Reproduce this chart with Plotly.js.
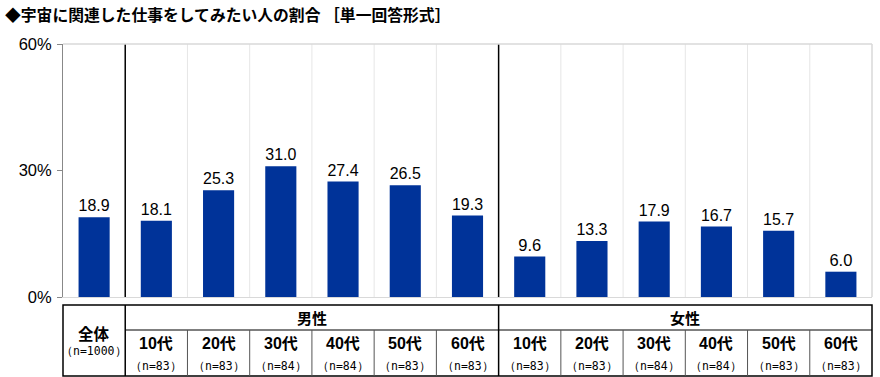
<!DOCTYPE html>
<html>
<head>
<meta charset="utf-8">
<script src="https://cdn.plot.ly/plotly-3.0.1.min.js"></script>
<style>html,body{margin:0;padding:0;background:#fff;}#chart{width:880px;height:377px;}</style>
</head>
<body>
<div id="chart"></div>
<script>
const titleText = '◆宇宙に関連した仕事をしてみたい人の割合 ［単一回答形式］';
const groups = ['全体','男性','男性','男性','男性','男性','男性','女性','女性','女性','女性','女性','女性'];
const ages = ['', '10代','20代','30代','40代','50代','60代','10代','20代','30代','40代','50代','60代'];
const nLabels = ['（n=1000）','（n=83）','（n=83）','（n=84）','（n=84）','（n=83）','（n=83）','（n=83）','（n=83）','（n=84）','（n=84）','（n=83）','（n=83）'];
const values = [18.9,18.1,25.3,31.0,27.4,26.5,19.3,9.6,13.3,17.9,16.7,15.7,6.0];
const yTicks = [0,30,60];

const keys = groups.map((g,i)=> g + ages[i]);
const JP = '"Liberation Sans", Arial, "Noto Sans CJK JP", sans-serif';
const CJK = '"Noto Sans CJK JP", sans-serif';
const MONO = '"DejaVu Sans Mono", "Liberation Mono", monospace';

const H = 253;
const py = px => -px / H;
const tTop = py(8), tMid = py(33), tBot = py(79);

const shapes = [];
for (let i = 0; i < keys.length - 1; i++) {
  const sep = (i === 0 || i === 6);
  shapes.push({type:'line', xref:'x', yref:'paper', x0:i+0.5, x1:i+0.5, y0:0, y1:1,
    line:{color: sep ? '#000000' : '#e6e6e6', width: sep ? 1.5 : 1}, layer:'below'});
}
shapes.push({type:'line', xref:'paper', yref:'paper', x0:0, x1:1, y0:1, y1:1, line:{color:'#d9d9d9', width:1.5}});
shapes.push({type:'line', xref:'paper', yref:'paper', x0:1, x1:1, y0:0, y1:1, line:{color:'#d9d9d9', width:1.5}});
shapes.push({type:'rect', xref:'paper', yref:'paper', x0:0, x1:1, y0:tBot, y1:tTop, line:{color:'#000', width:1.5}});
shapes.push({type:'line', xref:'x', yref:'paper', x0:0.5, x1:keys.length-0.5, y0:tMid, y1:tMid, line:{color:'#000', width:1.2}});
for (let i = 0; i < keys.length - 1; i++) {
  const sep = (i === 0 || i === 6);
  shapes.push({type:'line', xref:'x', yref:'paper', x0:i+0.5, x1:i+0.5,
    y0:tBot, y1: sep ? tTop : tMid, line:{color: sep ? '#000' : '#555', width: sep ? 1.5 : 1}});
}

const annotations = [];
annotations.push({xref:'paper', yref:'paper', x:-60/809, y:1+ (44-14)/H, xanchor:'left', yanchor:'middle',
  text:'<b>'+titleText+'</b>', showarrow:false, font:{family:CJK, size:15.8, color:'#000'}});
['男性','女性'].forEach(g => {
  const idx = groups.map((x,i)=> x===g ? i : -1).filter(i=>i>=0);
  const mid = (idx[0] + idx[idx.length-1]) / 2;
  annotations.push({xref:'x', yref:'paper', x:mid, y:py(21), yanchor:'middle', text:'<b>'+g+'</b>', showarrow:false,
    font:{family:JP, size:15, color:'#000'}});
});
annotations.push({xref:'x', yref:'paper', x:keys[0], y:py(37), yanchor:'middle', text:'<b>'+groups[0]+'</b>', showarrow:false,
  font:{family:JP, size:15.5, color:'#000'}});
annotations.push({xref:'x', yref:'paper', x:keys[0], y:py(54), yanchor:'middle', text:nLabels[0], showarrow:false,
  font:{family:MONO, size:11.5, color:'#000'}});
for (let i = 1; i < keys.length; i++) {
  annotations.push({xref:'x', yref:'paper', x:keys[i], y:py(46.5), yanchor:'middle', text:'<b>'+ages[i]+'</b>', showarrow:false,
    font:{family:JP, size:16, color:'#000'}});
  annotations.push({xref:'x', yref:'paper', x:keys[i], y:py(69), yanchor:'middle', text:nLabels[i], showarrow:false,
    font:{family:MONO, size:11.5, color:'#000'}});
}

const trace = {
  type:'bar', x:keys, y:values, width:0.5,
  marker:{color:'#003399'},
  text: values.map(v=>v.toFixed(1)), textposition:'outside', cliponaxis:false,
  textfont:{family:'"Liberation Sans", Arial, sans-serif', size:16.5, color:'#000'},
  hoverinfo:'none'
};

const layout = {
  width:880, height:377,
  margin:{l:63, r:8, t:44, b:80, pad:0},
  paper_bgcolor:'#fff', plot_bgcolor:'#fff',
  showlegend:false,
  xaxis:{type:'category', categoryorder:'array', categoryarray:keys, showticklabels:false, showgrid:false,
    zeroline:false, showline:true, linecolor:'#d9d9d9', linewidth:1, ticks:'', range:[-0.5, keys.length-0.5]},
  yaxis:{range:[0,60], tickvals:yTicks, ticktext:yTicks.map(v=>v+'%'), showgrid:false, zeroline:false,
    showline:true, linecolor:'#888', linewidth:1, ticks:'outside', ticklen:5, tickcolor:'#888',
    ticklabelstandoff:2,
    tickfont:{family:'"Liberation Sans", Arial, sans-serif', size:16.5, color:'#000'}},
  shapes: shapes,
  annotations: annotations
};

Plotly.newPlot('chart', [trace], layout, {displayModeBar:false, staticPlot:true});
</script>
</body>
</html>
